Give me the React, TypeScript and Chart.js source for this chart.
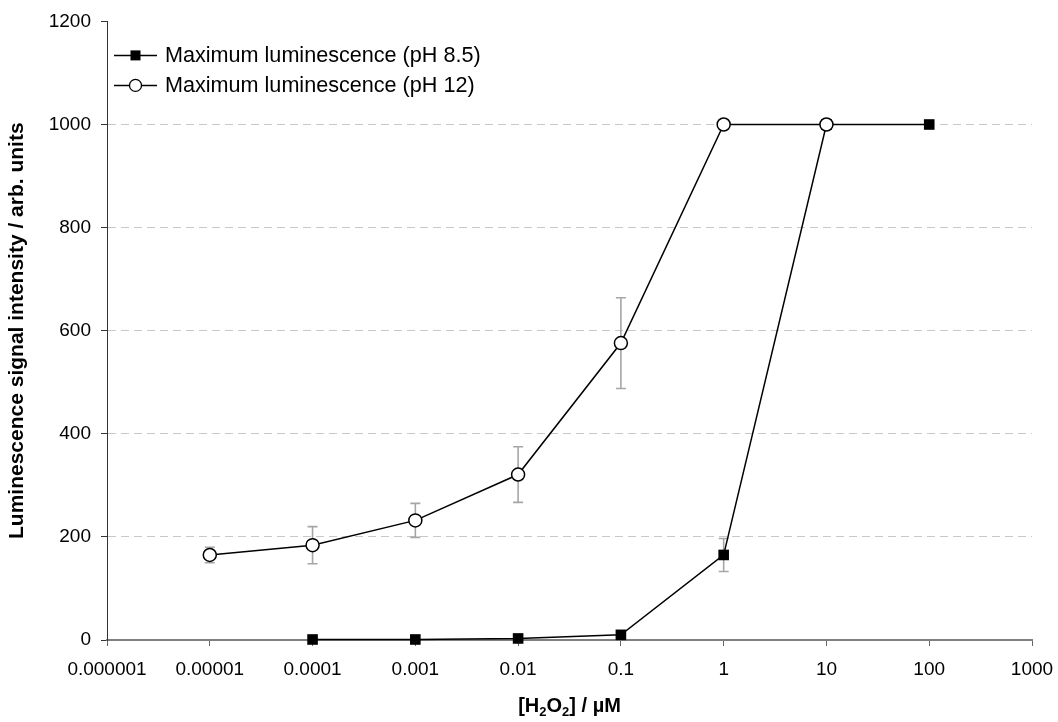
import React, { useEffect, useRef } from "react";
import { Chart, registerables } from "chart.js";

Chart.register(...registerables);

// ---- data ----
const concentrations85 = [0.0001, 0.001, 0.01, 0.1, 1, 10, 100];
const luminescence85 = [1, 1, 3, 10, 165, 1000, 1000];
const errors85 = [0, 0, 0, 0, 32, 0, 0];

const concentrations12 = [0.00001, 0.0001, 0.001, 0.01, 0.1, 1, 10];
const luminescence12 = [165, 184, 232, 321, 576, 1000, 1000];
const errors12 = [15, 36, 33, 54, 88, 0, 0];

const xTickValues = [1e-6, 1e-5, 1e-4, 1e-3, 1e-2, 1e-1, 1, 10, 100, 1000];
const xTickLabels = ["0.000001", "0.00001", "0.0001", "0.001", "0.01", "0.1", "1", "10", "100", "1000"];
const yMin = 0;
const yMax = 1200;
const yStep = 200;

const seriesLabels = ["Maximum luminescence (pH 8.5)", "Maximum luminescence (pH 12)"];
const yAxisTitle = "Luminescence signal intensity / arb. units";
// x-axis title segments: [text, isSubscript]
const xAxisTitleParts: [string, boolean][] = [["[H", false], ["2", true], ["O", false], ["2", true], ["] / µM", false]];

const FONT = "'Liberation Sans', Arial, sans-serif";

const errorBarPlugin = {
  id: "errorBars",
  beforeDatasetsDraw(chart: any) {
    const { ctx } = chart;
    const xs = chart.scales.x;
    const ys = chart.scales.y;
    chart.data.datasets.forEach((ds: any) => {
      const errs: number[] = ds.errorBars || [];
      ds.data.forEach((p: any, i: number) => {
        const e = errs[i];
        if (!e) return;
        const px = xs.getPixelForValue(p.x);
        const top = ys.getPixelForValue(p.y + e);
        const bot = ys.getPixelForValue(p.y - e);
        ctx.save();
        ctx.strokeStyle = "#a6a6a6";
        ctx.lineWidth = 1.6;
        ctx.beginPath();
        ctx.moveTo(px, top);
        ctx.lineTo(px, bot);
        ctx.moveTo(px - 5, top);
        ctx.lineTo(px + 5, top);
        ctx.moveTo(px - 5, bot);
        ctx.lineTo(px + 5, bot);
        ctx.stroke();
        ctx.restore();
      });
    });
  },
};

const legendAndTitlePlugin = {
  id: "customLegendTitle",
  afterDraw(chart: any) {
    const { ctx, chartArea } = chart;
    // legend
    [0, 1].forEach((idx, row) => {
      const ds = chart.data.datasets[idx];
      const y = chartArea.top + 34 + row * 30;
      const x1 = chartArea.left + 7;
      const x2 = chartArea.left + 50;
      const cx = (x1 + x2) / 2;
      ctx.save();
      ctx.strokeStyle = "#000";
      ctx.lineWidth = 1.5;
      ctx.beginPath();
      ctx.moveTo(x1, y);
      ctx.lineTo(x2, y);
      ctx.stroke();
      if (ds.pointStyle === "rect") {
        ctx.fillStyle = "#000";
        ctx.fillRect(cx - 5, y - 5, 10, 10);
      } else {
        ctx.beginPath();
        ctx.arc(cx, y, 6, 0, Math.PI * 2);
        ctx.fillStyle = "#fff";
        ctx.fill();
        ctx.lineWidth = 1.3;
        ctx.stroke();
      }
      ctx.fillStyle = "#000";
      ctx.font = `21.6px ${FONT}`;
      ctx.textBaseline = "middle";
      ctx.textAlign = "left";
      ctx.fillText(ds.label, chartArea.left + 58, y + 1);
      ctx.restore();
    });

    // x-axis title with subscripts
    ctx.save();
    const mainFont = `bold 20px ${FONT}`;
    const subFont = `bold 13px ${FONT}`;
    let total = 0;
    xAxisTitleParts.forEach(([t, sub]) => {
      ctx.font = sub ? subFont : mainFont;
      total += ctx.measureText(t).width;
    });
    let x = (chartArea.left + chartArea.right) / 2 - total / 2;
    const baseY = 712;
    ctx.fillStyle = "#000";
    ctx.textBaseline = "alphabetic";
    ctx.textAlign = "left";
    xAxisTitleParts.forEach(([t, sub]) => {
      ctx.font = sub ? subFont : mainFont;
      ctx.fillText(t, x, sub ? baseY + 4 : baseY);
      x += ctx.measureText(t).width;
    });
    ctx.restore();
  },
};

export default function App() {
  const canvasRef = useRef<HTMLCanvasElement | null>(null);

  useEffect(() => {
    if (!canvasRef.current) return;
    const chart = new Chart(canvasRef.current, {
      type: "line",
      data: {
        datasets: [
          {
            label: seriesLabels[0],
            data: concentrations85.map((x, i) => ({ x, y: luminescence85[i] })),
            borderColor: "#000",
            borderWidth: 1.5,
            pointStyle: "rect",
            pointRadius: 7.5,
            pointBackgroundColor: "#000",
            pointBorderColor: "#000",
            pointBorderWidth: 0,
            clip: false,
            order: 1,
            errorBars: errors85,
          } as any,
          {
            label: seriesLabels[1],
            data: concentrations12.map((x, i) => ({ x, y: luminescence12[i] })),
            borderColor: "#000",
            borderWidth: 1.5,
            pointStyle: "circle",
            pointRadius: 6.5,
            pointBackgroundColor: "#fff",
            pointBorderColor: "#000",
            pointBorderWidth: 1.5,
            clip: false,
            order: 0,
            errorBars: errors12,
          } as any,
        ],
      },
      options: {
        animation: false,
        responsive: false,
        layout: { padding: { top: 20, right: 26, left: 0, bottom: 0 } },
        plugins: {
          legend: { display: false },
          tooltip: { enabled: false },
        },
        scales: {
          x: {
            type: "logarithmic",
            min: xTickValues[0],
            max: xTickValues[xTickValues.length - 1],
            afterBuildTicks: (scale: any) => {
              scale.ticks = xTickValues.map((v) => ({ value: v }));
            },
            afterFit: (scale: any) => {
              scale.height = 82;
              scale.paddingLeft = 0;
              scale.paddingRight = 0;
            },
            ticks: {
              autoSkip: false,
              maxRotation: 0,
              minRotation: 0,
              padding: 12,
              color: "#000",
              font: { family: FONT, size: 19 },
              callback: (_v: any, i: number) => xTickLabels[i],
            },
            grid: {
              drawOnChartArea: false,
              drawTicks: true,
              tickLength: 6,
              color: "rgba(0,0,0,0)",
              tickColor: "#666",
              tickWidth: 1,
            },
            border: { display: true, color: "#808080", width: 2 },
            title: { display: false },
          },
          y: {
            type: "linear",
            min: yMin,
            max: yMax,
            afterFit: (scale: any) => {
              scale.width = 107;
            },
            ticks: {
              stepSize: yStep,
              padding: 10,
              color: "#000",
              font: { family: FONT, size: 19 },
              callback: (v: any) => String(v),
            },
            grid: {
              drawTicks: true,
              tickLength: 6,
              color: (c: any) =>
                c.tick && (c.tick.value === yMin || c.tick.value === yMax) ? "rgba(0,0,0,0)" : "#c8c8c8",
              tickColor: "#333",
              lineWidth: 1,
              tickBorderDash: [],
            } as any,
            border: { display: true, color: "#333", width: 1, dash: [8, 5] },
            title: {
              display: true,
              text: yAxisTitle,
              color: "#000",
              font: { family: FONT, size: 21, weight: "bold" },
              padding: { top: 5, bottom: 0 },
            },
          },
        },
      },
      plugins: [errorBarPlugin, legendAndTitlePlugin],
    });
    return () => chart.destroy();
  }, []);

  return (
    <div style={{ position: "absolute", left: 0, top: 0, width: 1058, height: 722, background: "#fff" }}>
      <canvas ref={canvasRef} width={1058} height={722} style={{ display: "block", width: 1058, height: 722 }} />
    </div>
  );
}
